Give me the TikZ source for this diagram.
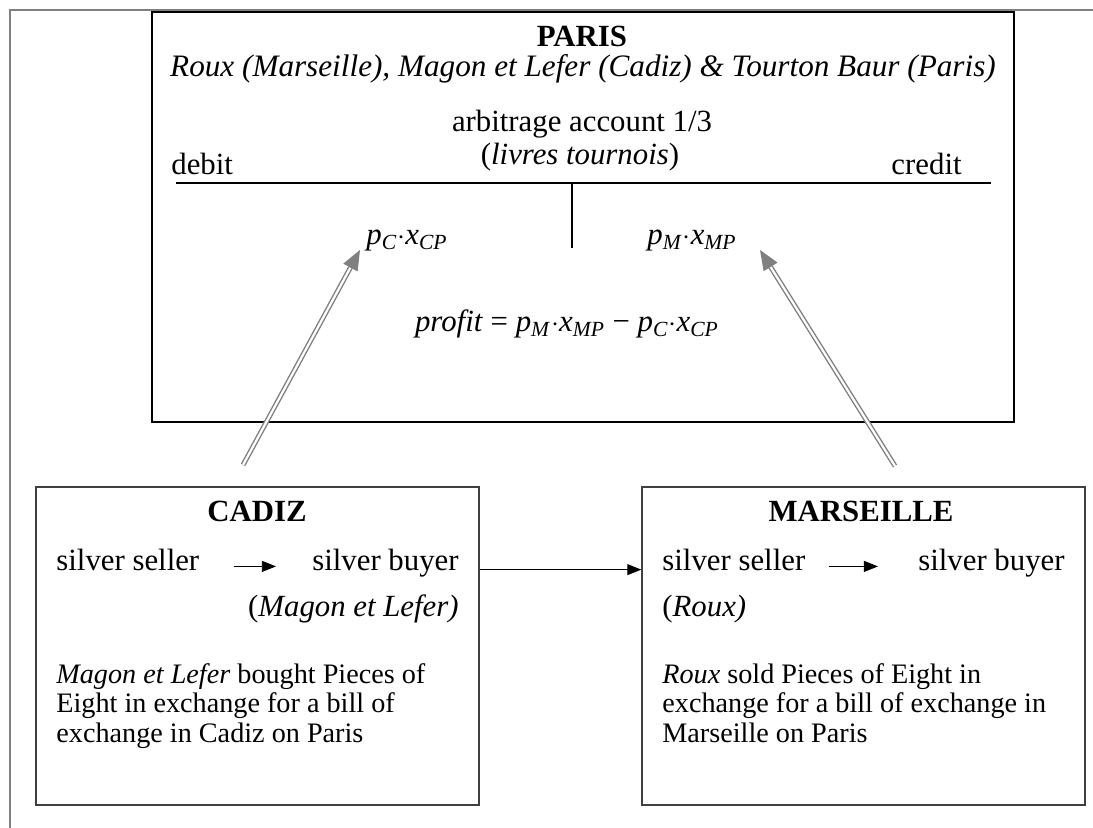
\documentclass[tikz,border=0pt]{standalone}
\usepackage{fontspec}
\setmainfont{Liberation Serif}
\usetikzlibrary{positioning, arrows.meta, calc}

\newcommand\amt[2]{\textit{#1}\textsubscript{\textit{#2}}}

\begin{document}
\begin{tikzpicture}[x=0.5pt, y=-0.5pt, >={Triangle[length=7pt, width=5.5pt]},
    font=\fontsize{15.4}{17}\selectfont, every node/.style={inner sep=0pt},
    city/.style={draw=black!75, line width=0.75pt, minimum width=221.5pt, minimum height=159pt},
    note/.style={anchor=base west, align=left, font=\fontsize{14.1}{14.75}\selectfont},
    transfer/.style={draw=black!50, line width=0.7pt, double=white, double distance=1.1pt, shorten >=7pt},
    transfertip/.style={black!50, line width=0.7pt, -{Triangle[length=10pt, width=8pt]}}]
  \useasboundingbox (0,0) rectangle (1093,828);
  \draw[black!50, line width=0.75pt] (10,828) -- (10,10) -- (1093,10);

  % Paris
  \node[draw, line width=1pt, minimum width=431pt, minimum height=205pt] (paris) at (583,217) {};
  \node[anchor=base] (paristitle) at (582,47) {\textbf{PARIS}};
  \node[anchor=base, font=\fontsize{15.6}{17}\selectfont] (firms) at (583,77)
    {\textit{Roux (Marseille), Magon et Lefer (Cadiz) \& Tourton Baur (Paris)}};
  \node[anchor=base] (account) at (582,132) {arbitrage account 1/3};
  \node[anchor=base] (currency) at (580,165) {(\textit{livres tournois})};
  \node[anchor=base west] (debit) at (171,175) {debit};
  \node[anchor=base east] (credit) at (962,175) {credit};
  \coordinate (tleft) at (176,183);
  \coordinate (tright) at (991,183);
  \coordinate (tmid) at (572,183);
  \coordinate (tfoot) at (572,248);
  \draw[line width=1pt] (tleft) -- (tright);
  \draw[line width=0.6pt] (tmid) -- (tfoot);
  \node[anchor=base] (pC) at (407,245) {\amt{p}{C}$\cdot$\amt{x}{CP}};
  \node[anchor=base] (pM) at (692,245) {\amt{p}{M}$\cdot$\amt{x}{MP}};
  \node[anchor=base] (profit) at (567,332) {\textit{profit} = \amt{p}{M}$\cdot$\amt{x}{MP} − \amt{p}{C}$\cdot$\amt{x}{CP}};

  % Cadiz
  \node[city] (cadiz) at (257.5,646) {};
  \node[anchor=base] (cadiztitle) at (257,522) {\textbf{CADIZ}};
  \node[anchor=base west] (cseller) at (56,571) {silver seller};
  \node[anchor=base east] (cbuyer) at (459,571) {silver buyer};
  \node[anchor=base east] (cfirm) at (459,617) {(\textit{Magon et Lefer)}};
  \node[note] (cnote) at (56,742)
    {\textit{Magon et Lefer} bought Pieces of\\Eight in exchange for a bill of\\exchange in Cadiz on Paris};

  % Marseille
  \node[city] (marseille) at (863.5,646) {};
  \node[anchor=base] (marstitle) at (861,522) {\textbf{MARSEILLE}};
  \node[anchor=base west] (mseller) at (662,571) {silver seller};
  \node[anchor=base east] (mbuyer) at (1065,571) {silver buyer};
  \node[anchor=base west] (mfirm) at (662,617) {(\textit{Roux)}};
  \node[note] (mnote) at (662,742)
    {\textit{Roux} sold Pieces of Eight in\\exchange for a bill of exchange in\\Marseille on Paris};

  \draw[->, shorten <=17pt, shorten >=18pt] (cseller.mid east) -- (cbuyer.mid west);
  \draw[->, shorten <=11.5pt, shorten >=20pt] (mseller.mid east) -- (mbuyer.mid west);
  \draw[->, line width=0.6pt] ($(cadiz.north east)!0.261!(cadiz.south east)$)
    -- ($(marseille.north west)!0.261!(marseille.south west)$);

  % transfers to Paris
  \coordinate (cadizfoot) at (243,465);
  \coordinate (marsfoot) at (895,466);
  \coordinate (pCtip) at ([shift={(-6,-2)}]pC.south west);
  \coordinate (pMtip) at ([shift={(23,-2)}]pM.south east);
  \draw[transfer] (cadizfoot) -- (pCtip);
  \draw[transfertip] ($(pCtip)!10pt!(cadizfoot)$) -- (pCtip);
  \draw[transfer] (marsfoot) -- (pMtip);
  \draw[transfertip] ($(pMtip)!10pt!(marsfoot)$) -- (pMtip);
\end{tikzpicture}
\end{document}
